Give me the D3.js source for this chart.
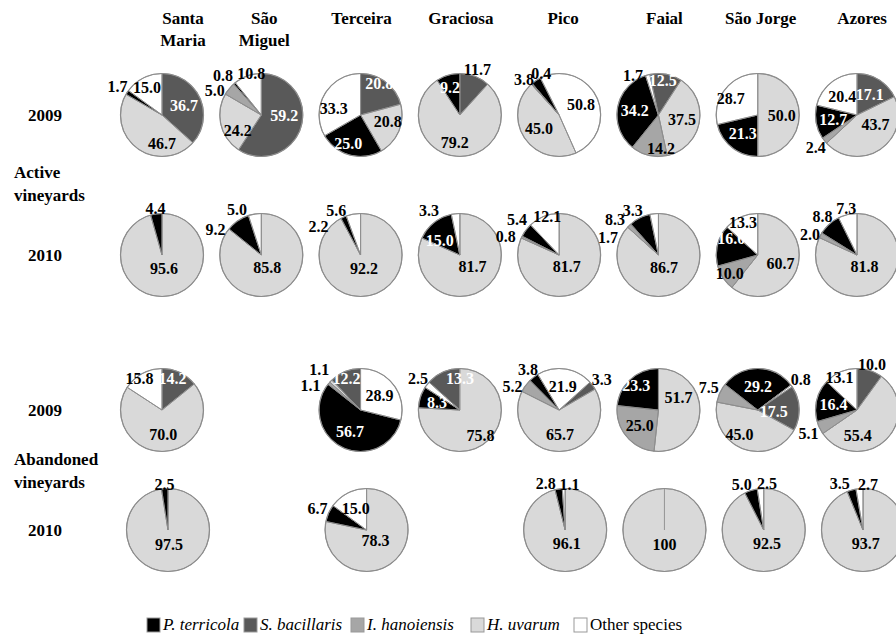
<!DOCTYPE html>
<html><head><meta charset="utf-8">
<script src="https://cdn.jsdelivr.net/npm/d3@7/dist/d3.min.js"></script>
<style>
body{margin:0;background:#fff;}
svg text{font-family:"Liberation Serif","Times New Roman","DejaVu Serif",serif;}
</style></head>
<body><svg id="c" width="896" height="634" font-family="Liberation Serif, serif"></svg>
<script>
// ---------- DATA ----------
const islands = ["Santa Maria","São Miguel","Terceira","Graciosa","Pico","Faial","São Jorge","Azores"];
const islandLines = [["Santa","Maria"],["São","Miguel"],["Terceira"],["Graciosa"],["Pico"],["Faial"],["São Jorge"],["Azores"]];
// slice order within each pie
const species = ["S. bacillaris","H. uvarum","I. hanoiensis","P. terricola","Other species"];
const legendOrder = ["P. terricola","S. bacillaris","I. hanoiensis","H. uvarum","Other species"];
const rowLabels = ["2009","2010","2009","2010"];
const groupLabels = [["Active","vineyards"],["Abandoned","vineyards"]];

// values [S. bacillaris, H. uvarum, I. hanoiensis, P. terricola, Other]
const active2009 = [
  [36.7,46.7,0,1.7,15.0],
  [59.2,24.2,5.0,0.8,10.8],
  [20.8,20.8,0,25.0,33.3],
  [11.7,79.2,0,9.2,0],
  [0,45.0,0.4,3.8,50.8],
  [12.5,37.5,14.2,34.2,1.7],
  [0,50.0,0,21.3,28.7],
  [17.1,43.7,2.4,12.7,20.4]
];
const active2010 = [
  [0,95.6,0,4.4,0],
  [0,85.8,0,9.2,5.0],
  [0,92.2,0,2.2,5.6],
  [0,81.7,0,15.0,3.3],
  [0,81.7,0.8,5.4,12.1],
  [0,86.7,1.7,8.3,3.3],
  [0,60.7,10.0,16.0,13.3],
  [0,81.8,2.0,8.8,7.3]
];
const abandoned2009 = [
  [14.2,70.0,0,0,15.8],
  null,
  [12.2,1.1,1.1,56.7,28.9],
  [13.3,75.8,0,8.3,2.5],
  [3.3,65.7,5.2,3.8,21.9],
  [0,51.7,25.0,23.3,0],
  [17.5,45.0,7.5,29.2,0.8],
  [10.0,55.4,5.1,16.4,13.1]
];
const abandoned2010 = [
  [0,97.5,0,2.5,0],
  null,
  [0,78.3,0,6.7,15.0],
  null,
  [0,96.1,0,2.8,1.1],
  [0,100,0,0,0],
  [0,92.5,0,5.0,2.5],
  [0,93.7,0,3.5,2.7]
];
const rows = [active2009, active2010, abandoned2009, abandoned2010];

// ---------- LAYOUT / STYLE ----------
const rowY = [115,255,410,530];
const rowDx = [0,0,0,6];
const rotations = [
  [0,0,0,0,156,-12,0,0],
  [0,0,0,0,0,0,0,0],
  [0,0,0,-48,48,0,56,0],
  [0,0,0,0,0,0,0,0]
];
const ccw = [[],[],[2],[]]; // pies drawn counter-clockwise
const headerDx = [21,3,1,1,4,6,3,5];
const colors = {"S. bacillaris":"#595959","H. uvarum":"#d9d9d9","I. hanoiensis":"#a6a6a6","P. terricola":"#000000","Other species":"#ffffff"};
const textWhite = {"S. bacillaris":true,"P. terricola":true};
const R = 41.5;
// label placement tweaks: key "row-col-slice"
const forceInside = new Set(["0-3-3","2-3-3","1-6-2"]);
const forceOutside = new Set(["0-3-0"]);
const nudge = {
 "0-0-1":[14,9],"0-0-4":[-4,-6],"0-1-0":[0,-6],"0-1-1":[0,10],"0-1-2":[-6,9],"0-1-3":[-5,0],"0-1-4":[6,4],
 "0-2-0":[4,-13],"0-2-1":[5,-3],"0-2-3":[-6,5],"0-2-4":[-6,5],"0-3-3":[-3,-5],"0-3-1":[-4,13],
 "0-4-2":[16,-3],"0-4-3":[-7,6],"0-5-0":[0,-11],"0-5-2":[8,10],"0-5-4":[-13,7],"0-6-4":[-8,-2],"0-7-1":[5,-10],
 "1-1-3":[-17,16],"1-1-4":[-17,1],"1-2-3":[-22,16],"1-2-4":[-16,2],"1-3-4":[-26,2],"1-3-3":[-5,4],"1-3-1":[5,0],
 "1-4-2":[-5,5],"1-4-3":[0,-4],
 "1-4-4":[-3,-16],"1-5-2":[-14,19],"1-5-3":[-21,9],"1-5-4":[-21,2],"1-6-3":[-3,-11],"1-6-2":[-8,5],"1-6-4":[-5,-11],"1-7-2":[0,5],
 "2-0-4":[-11,-10],"2-0-0":[0,-10],"2-2-0":[-5,-9],"2-2-1":[-4,-4],"2-2-2":[-10,9],"2-3-0":[10,-10],"2-3-1":[4,8],
 "2-4-2":[-4,7],"2-5-3":[-6,-7],"2-5-1":[-4,-14],"2-6-0":[-8,2],"2-6-1":[-10,2],"2-7-1":[-16,8],"2-7-4":[-8,-11],
 "3-4-3":[-12,0],"3-4-4":[6,0],"3-6-3":[-7,0],"3-6-4":[7,-1],"3-7-3":[-10,0],"3-7-4":[9,0]
};

const svg = d3.select("#c");
const x = d3.scalePoint().domain(islands).range([162,857]);
const color = d3.scaleOrdinal().domain(species).range(species.map(s=>colors[s]));
const FF = "Liberation Serif, Times New Roman, serif";

// headers
islands.forEach((isl,i)=>{
  const t = svg.append("text").attr("x", x(isl)+headerDx[i]).attr("y",24)
    .attr("text-anchor","middle").attr("font-weight","bold").attr("font-size",17).attr("font-family",FF);
  islandLines[i].forEach((ln,j)=>t.append("tspan").attr("x",x(isl)+headerDx[i]).attr("dy", j? 22:0).text(ln));
});

// row labels
rowLabels.forEach((lb,i)=>{
  svg.append("text").attr("x",45).attr("y",rowY[i]+6).attr("text-anchor","middle")
    .attr("font-weight","bold").attr("font-size",17).attr("font-family",FF).text(lb);
});
const groupY = [178,465];
groupLabels.forEach((g,i)=>{
  g.forEach((ln,j)=>svg.append("text").attr("x",14).attr("y",groupY[i]+j*23)
    .attr("font-weight","bold").attr("font-size",17).attr("font-family",FF).text(ln));
});

const arc = d3.arc().innerRadius(0).outerRadius(R);

rows.forEach((row,ri)=>{
  row.forEach((vals,ci)=>{
    if(!vals) return;
    const cx = x(islands[ci]) + rowDx[ri], cy = rowY[ri];
    const rot = rotations[ri][ci]*Math.PI/180;
    const rev = ccw[ri].includes(ci);
    const data = species.map((s,k)=>({sp:s, k:k, v:vals[k]}));
    const pie = d3.pie().sort(null).value(d=>d.v)
      .startAngle(rot).endAngle(rev? rot-2*Math.PI : rot+2*Math.PI);
    const arcs = pie(data).filter(a=>a.data.v>0);
    const g = svg.append("g").attr("transform",`translate(${cx},${cy})`);
    g.selectAll("path").data(arcs).join("path")
      .attr("d",arc).attr("fill",d=>color(d.data.sp))
      .attr("stroke","#8c8c8c").attr("stroke-width",0.8);
    arcs.forEach(a=>{
      g.append("line").attr("x1",0).attr("y1",0)
        .attr("x2",R*Math.sin(a.startAngle)).attr("y2",-R*Math.cos(a.startAngle))
        .attr("stroke","#8c8c8c").attr("stroke-width",0.9);
    });
    g.append("circle").attr("r",R).attr("fill","none").attr("stroke","#8c8c8c").attr("stroke-width",1.2);
    // labels
    arcs.forEach(a=>{
      const key = `${ri}-${ci}-${a.data.k}`;
      const mid = (a.startAngle+a.endAngle)/2;
      const pct = a.data.v;
      const lbl = pct===100 ? "100" : pct.toFixed(1);
      const s = Math.sin(mid), c = Math.cos(mid);
      let inside = (pct>=12 || forceInside.has(key)) && !forceOutside.has(key);
      let rr, fill="#000";
      if(pct>=76) rr = 14;
      else if(inside) rr = R*0.58;
      else rr = R + 4 + 9*Math.abs(s);
      if(inside) fill = textWhite[a.data.sp] ? "#fff" : "#000";
      let px = rr*s, py = -rr*c;
      const n = nudge[key];
      if(n){ px += n[0]; py += n[1]; }
      g.append("text").attr("x",px).attr("y",py).attr("dy","0.35em")
        .attr("text-anchor","middle").attr("font-weight","bold").attr("font-size",16)
        .attr("font-family",FF).attr("fill",fill).text(lbl);
    });
  });
});

// legend
const legX = [147,244,351,471,574];
legendOrder.forEach((sp,i)=>{
  svg.append("rect").attr("x",legX[i]).attr("y",618).attr("width",13).attr("height",14)
    .attr("fill",colors[sp]).attr("stroke","#999").attr("stroke-width",1);
  svg.append("text").attr("x",legX[i]+16).attr("y",630).attr("font-size",17).attr("font-family",FF)
    .attr("font-style", sp==="Other species" ? "normal" : "italic").text(sp);
});
</script></body></html>
